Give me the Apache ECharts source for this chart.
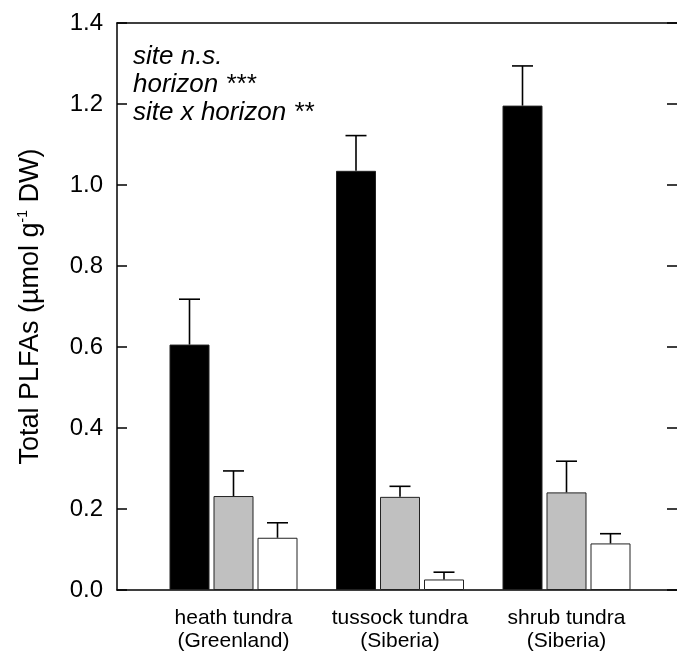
<!DOCTYPE html>
<html>
<head>
<meta charset="utf-8">
<script src="https://cdn.jsdelivr.net/npm/echarts@6/dist/echarts.min.js"></script>
<style>html,body{margin:0;padding:0;background:#fff;overflow:hidden;}#c{width:677px;height:655px;}</style>
</head>
<body>
<div id="c"></div>
<script>
const categories = ['heath tundra\n(Greenland)', 'tussock tundra\n(Siberia)', 'shrub tundra\n(Siberia)'];
const blackValues = [0.606, 1.035, 1.196];
const blackErrors = [0.112, 0.087, 0.098];
const greyValues = [0.232, 0.230, 0.241];
const greyErrors = [0.062, 0.026, 0.077];
const whiteValues = [0.129, 0.026, 0.115];
const whiteErrors = [0.037, 0.018, 0.024];
const yTicks = [0.0, 0.2, 0.4, 0.6, 0.8, 1.0, 1.2, 1.4];
const annotation = ['site n.s.', 'horizon ***', 'site x horizon **'];

const FONT = 'Liberation Sans, Arial, Helvetica, sans-serif';
const BAR_W = 40, BAR_GAP_PX = 4;
const fills = ['#000000', '#c0c0c0', '#ffffff'];
const seriesValues = [blackValues, greyValues, whiteValues];
const seriesErrors = [blackErrors, greyErrors, whiteErrors];

const chart = echarts.init(document.getElementById('c'), null, {renderer: 'canvas'});

const barSeries = seriesValues.map((vals, k) => ({
  type: 'bar', xAxisIndex: 1, yAxisIndex: 2,
  data: vals, barWidth: BAR_W, barGap: (BAR_GAP_PX / BAR_W * 100) + '%',
  itemStyle: {color: fills[k], borderColor: '#222', borderWidth: 1},
  silent: true, animation: false, z: 2
}));

const errSeries = seriesValues.map((vals, k) => ({
  type: 'custom', xAxisIndex: 1, yAxisIndex: 2, z: 3, silent: true, animation: false,
  data: vals.map((v, i) => [i, v, v + seriesErrors[k][i]]),
  renderItem: function (params, api) {
    const off = (k - 1) * (BAR_W + BAR_GAP_PX);
    const p0 = api.coord([api.value(0), api.value(1)]);
    const p1 = api.coord([api.value(0), api.value(2)]);
    const x = p0[0] + off;
    const cap = 10.5;
    const st = {stroke: '#000', lineWidth: 1.6, fill: null};
    return {type: 'group', children: [
      {type: 'line', shape: {x1: x, y1: p0[1], x2: x, y2: p1[1]}, style: st},
      {type: 'line', shape: {x1: x - cap, y1: p1[1], x2: x + cap, y2: p1[1]}, style: st}
    ]};
  }
}));

const frameLine = {show: true, onZero: false, lineStyle: {color: '#000', width: 1.5}};
const tickStyle = {show: true, inside: true, length: 10, lineStyle: {color: '#000', width: 1.5}};

const option = {
  backgroundColor: '#fff',
  animation: false,
  grid: [
    {left: 117, width: 566, top: 23, bottom: 65},
    {left: 150.25, width: 499.5, top: 23, bottom: 65}
  ],
  xAxis: [
    {type: 'value', gridIndex: 0, min: 0, max: 1, position: 'bottom', axisLine: frameLine,
      axisTick: {show: false}, axisLabel: {show: false}, splitLine: {show: false}},
    {type: 'category', gridIndex: 1, data: categories,
      axisLine: {show: false, onZero: false}, axisTick: {show: false},
      axisLabel: {color: '#000', fontSize: 21, fontFamily: FONT, lineHeight: 23, margin: 17, interval: 0}},
    {type: 'value', gridIndex: 0, min: 0, max: 1, position: 'top', axisLine: frameLine,
      axisTick: {show: false}, axisLabel: {show: false}, splitLine: {show: false}}
  ],
  yAxis: [
    {type: 'value', gridIndex: 0, min: 0, max: 1.4, interval: 0.2, position: 'left',
      axisLine: frameLine,
      axisTick: tickStyle,
      splitLine: {show: false},
      axisLabel: {color: '#000', fontSize: 24, fontFamily: FONT, margin: 14,
        formatter: v => { const t = yTicks.find(x => Math.abs(x - v) < 1e-9); return t === undefined ? '' : t.toFixed(1); }},
      name: '{a|Total PLFAs (µmol g}{s|-1}{a| DW)}', nameLocation: 'middle', nameGap: 71, nameRotate: 90,
      nameTextStyle: {rich: {
        a: {fontSize: 27, fontFamily: FONT, color: '#000'},
        s: {fontSize: 14, fontFamily: FONT, color: '#000', padding: [0, 0, 16, 0]}
      }}
    },
    {type: 'value', gridIndex: 0, min: 0, max: 1.4, interval: 0.2, position: 'right',
      axisLine: {show: false, onZero: false},
      axisTick: tickStyle,
      axisLabel: {show: false}, splitLine: {show: false}},
    {type: 'value', gridIndex: 1, min: 0, max: 1.4, interval: 0.2, show: false}
  ],
  graphic: [{
    type: 'text', left: 133, top: 43, z: 10,
    style: {text: annotation.join('\n'), font: 'italic 26px ' + FONT, fill: '#000', lineHeight: 28}
  }],
  series: [].concat(barSeries, errSeries)
};
chart.setOption(option);
</script>
</body>
</html>
